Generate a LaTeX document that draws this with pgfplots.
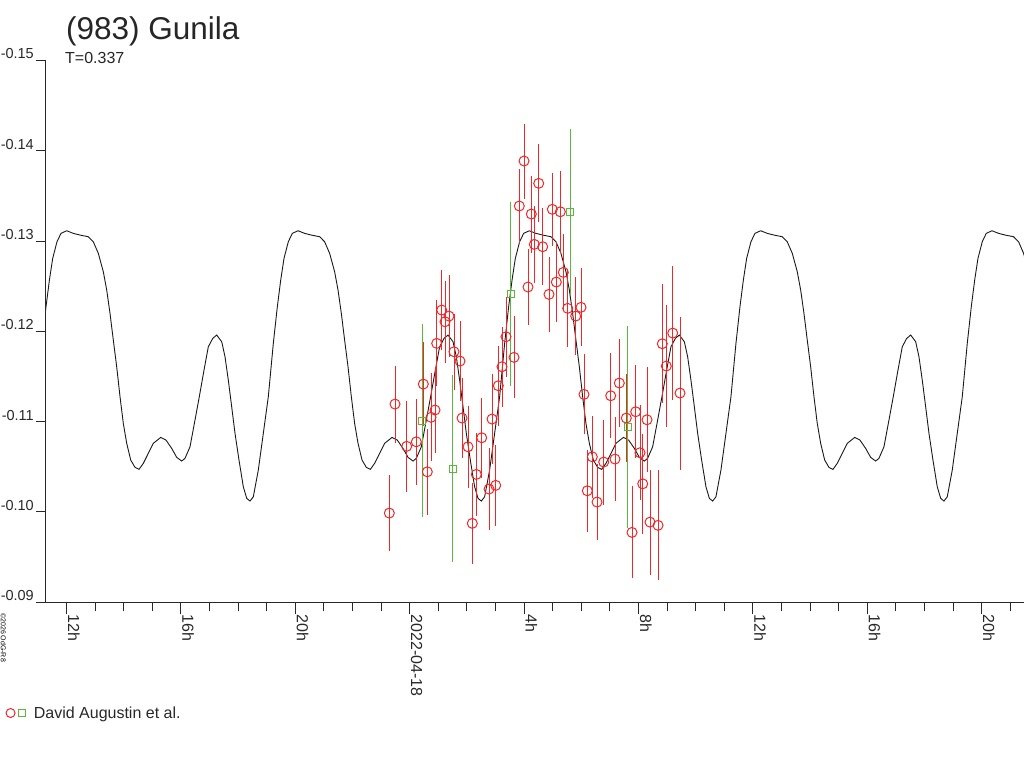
\documentclass[border=0pt]{standalone}
\usepackage{fontspec}
\setmainfont{Liberation Sans}
\usepackage{pgfplots}
\pgfplotsset{compat=1.18}
\usepackage{pgfplotstable}
\definecolor{ptred}{RGB}{238,40,40}
\definecolor{ptgreen}{RGB}{90,185,60}
\definecolor{axgray}{RGB}{40,40,40}

% one period of the model curve, hours after a maximum
\pgfplotstableread{
dh m
0.000 -0.13114
0.231 -0.13085
0.465 -0.13066
0.755 -0.13048
0.930 -0.12992
1.105 -0.12864
1.280 -0.12660
1.399 -0.12457
1.514 -0.12199
1.629 -0.11904
1.748 -0.11608
1.864 -0.11276
1.979 -0.10981
2.098 -0.10760
2.238 -0.10575
2.388 -0.10494
2.528 -0.10472
2.678 -0.10538
2.853 -0.10649
3.028 -0.10760
3.287 -0.10826
3.472 -0.10796
3.671 -0.10704
3.846 -0.10605
4.021 -0.10564
4.136 -0.10594
4.311 -0.10722
4.486 -0.11018
4.636 -0.11276
4.801 -0.11571
4.951 -0.11829
5.105 -0.11922
5.245 -0.11959
5.420 -0.11885
5.535 -0.11719
5.650 -0.11461
5.769 -0.11165
5.885 -0.10870
6.024 -0.10575
6.175 -0.10279
6.294 -0.10151
6.409 -0.10121
6.524 -0.10168
6.699 -0.10464
6.874 -0.10870
7.049 -0.11276
7.224 -0.11867
7.364 -0.12272
7.483 -0.12568
7.598 -0.12808
7.748 -0.12992
7.888 -0.13085
8.088 -0.13114
}\model

\pgfplotstableread{
h m e
-0.713 -0.09988 0.00421
-0.514 -0.11195 0.00426
-0.105 -0.10727 0.00504
0.231 -0.10777 0.00476
0.476 -0.11416 0.00465
0.615 -0.10445 0.00476
0.745 -0.11048 0.00487
0.885 -0.11129 0.00471
0.944 -0.11867 0.00476
1.119 -0.12236 0.00443
1.234 -0.12106 0.00454
1.374 -0.12169 0.00454
1.549 -0.11774 0.00421
1.759 -0.11671 0.00443
1.829 -0.11040 0.00443
2.038 -0.10722 0.00454
2.189 -0.09874 0.00449
2.329 -0.10416 0.00460
2.517 -0.10822 0.00443
2.773 -0.10254 0.00449
2.878 -0.11029 0.00498
3.007 -0.10295 0.00449
3.098 -0.11398 0.00443
3.227 -0.11608 0.00443
3.367 -0.11940 0.00443
3.647 -0.11712 0.00454
3.832 -0.13388 0.00415
3.997 -0.13886 0.00415
4.136 -0.12491 0.00426
4.252 -0.13299 0.00426
4.357 -0.12963 0.00426
4.510 -0.13639 0.00432
4.650 -0.12937 0.00426
4.871 -0.12410 0.00415
4.986 -0.13351 0.00404
5.126 -0.12546 0.00443
5.266 -0.13324 0.00454
5.371 -0.12653 0.00421
5.524 -0.12255 0.00432
5.804 -0.12169 0.00432
5.990 -0.12266 0.00432
6.094 -0.11302 0.00443
6.210 -0.10235 0.00454
6.385 -0.10611 0.00454
6.549 -0.10110 0.00421
6.783 -0.10553 0.00471
7.028 -0.11287 0.00471
7.178 -0.10586 0.00465
7.329 -0.11428 0.00487
7.573 -0.11040 0.00487
7.773 -0.09774 0.00509
7.902 -0.11110 0.00515
8.052 -0.10656 0.00526
8.147 -0.10312 0.00554
8.297 -0.11021 0.00581
8.402 -0.09888 0.00581
8.682 -0.09852 0.00609
8.832 -0.11863 0.00659
8.972 -0.11616 0.00676
9.196 -0.11981 0.00742
9.451 -0.11317 0.00847
}\reddata

\pgfplotstableread{
h m e
0.430 -0.11010 0.01069
1.503 -0.10478 0.01035
3.531 -0.12416 0.01019
5.605 -0.13324 0.00922
7.622 -0.10944 0.01119
}\greendata

\begin{document}
\begin{tikzpicture}
\useasboundingbox (0pt,0pt) rectangle (1024pt,768pt);
\begin{axis}[
  name=ax,
  at={(45pt,165.7pt)}, anchor=south west,
  width=979pt, height=541.9pt, scale only axis,
  xmin=-12.752, xmax=21.479,
  ymin=-0.15, ymax=-0.09, y dir=reverse,
  axis line style={draw=none},
  tick align=outside,
  tick pos=left,
  xtick={-12,-8,-4,0,4,8,12,16,20},
  xticklabels={12h,16h,20h,2022-04-18,4h,8h,12h,16h,20h},
  minor xtick={-12,-11,...,21},
  ytick={-0.15,-0.14,-0.13,-0.12,-0.11,-0.10,-0.09},
  yticklabels={-0.15,-0.14,-0.13,-0.12,-0.11,-0.10,-0.09},
  minor ytick={-0.15,-0.14,-0.13,-0.12,-0.11,-0.10,-0.09},
  major tick length=12pt, minor tick length=9pt,
  every major y tick/.append style={draw=none},
  tick style={axgray, line width=1pt},
  xticklabel style={font=\fontsize{16}{19}\selectfont, text=axgray,
    xshift=1.5pt, rotate=-90, anchor=base west, inner sep=0pt},
  yticklabel style={font=\fontsize{14.5}{17}\selectfont, text=axgray,
    xshift=1pt, yshift=1.5pt, anchor=base east, inner sep=0pt},
  legend style={draw=none, fill=none, at={(axis description cs:-0.0405,-0.2043)}, anchor=west,
    inner sep=0pt, font=\fontsize{16}{19}\selectfont, text=axgray,
    /tikz/every odd column/.append style={column sep=6pt}},
  legend cell align=left,
]
\addplot[forget plot, black!90, line width=0.9pt] table[x expr=\thisrow{dh}-20.081, y=m]{\model};
\addplot[forget plot, black!90, line width=0.9pt] table[x expr=\thisrow{dh}-11.993, y=m]{\model};
\addplot[forget plot, black!90, line width=0.9pt] table[x expr=\thisrow{dh}-3.905, y=m]{\model};
\addplot[forget plot, black!90, line width=0.9pt] table[x expr=\thisrow{dh}+4.183, y=m]{\model};
\addplot[forget plot, black!90, line width=0.9pt] table[x expr=\thisrow{dh}+12.271, y=m]{\model};
\addplot[forget plot, black!90, line width=0.9pt] table[x expr=\thisrow{dh}+20.359, y=m]{\model};
\addplot[forget plot, only marks, mark=o, mark size=5pt, mark options={ptred, line width=1pt},
  error bars/.cd, y dir=both, y explicit, error mark=none,
  error bar style={ptred, line width=1pt}]
  table[x=h, y=m, y error=e]{\reddata};
\addplot[forget plot, only marks, mark=square, mark size=3.6pt, mark options={ptgreen, line width=1pt},
  error bars/.cd, y dir=both, y explicit, error mark=none,
  error bar style={ptgreen, line width=1pt}]
  table[x=h, y=m, y error=e]{\greendata};
\addlegendimage{legend image code/.code={
  \draw[ptred, line width=1pt] (4.5pt,0pt) circle (4.5pt);
  \draw[ptgreen, line width=1pt] (12.5pt,-3.4pt) rectangle (19.3pt,3.4pt);}}
\addlegendentry{David Augustin et al.}
\end{axis}
\draw[axgray, line width=1pt] (ax.north west) -- (ax.south west) -- (ax.south east);
\node[anchor=base west, inner sep=0pt, font=\fontsize{31.5}{36}\selectfont, text=black!85] at (66pt,728.5pt) {(983) Gunila};
\node[anchor=base west, inner sep=0pt, font=\fontsize{16}{19}\selectfont, text=black!85] at (65pt,704.7pt) {T=0.337};
\node[rotate=-90, anchor=base west, inner sep=0pt, font=\fontsize{7}{8}\selectfont] at (1pt,155pt) {©2026 OdG-R8};
\end{tikzpicture}
\end{document}
